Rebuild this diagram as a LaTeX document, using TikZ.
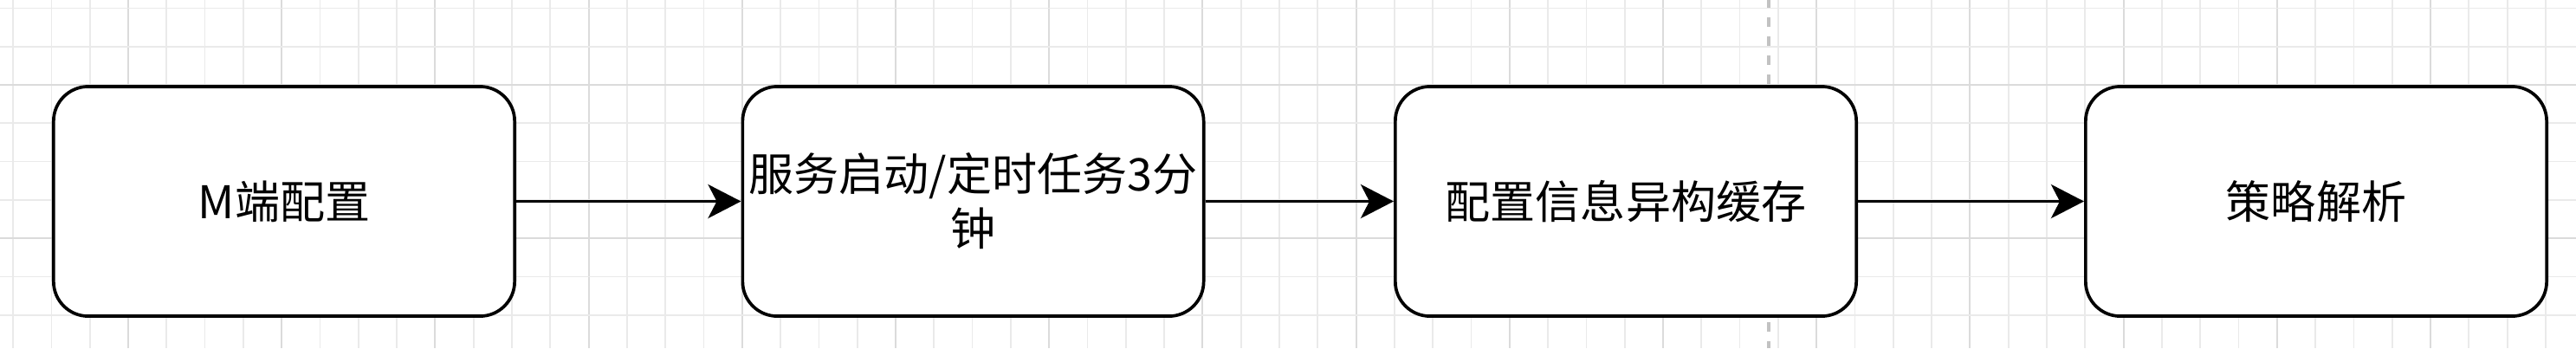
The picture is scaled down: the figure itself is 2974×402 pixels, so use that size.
\documentclass[tikz,border=0pt]{standalone}
\usepackage{fontspec}
\setmainfont{Noto Sans CJK SC}
\usetikzlibrary{arrows.meta}
\definecolor{gridminor}{HTML}{EAEAEA}
\definecolor{gridmajor}{HTML}{DBDBDB}
\definecolor{pageline}{HTML}{C2C2C2}
\begin{document}
\begin{tikzpicture}[x=0.01cm,y=-0.01cm,
  flowbox/.style={draw=black, line width=1.05pt, fill=white, rounded corners=0.4cm,
    minimum width=5.32cm, minimum height=2.65cm, inner sep=0pt, align=center,
    font=\fontsize{14.8pt}{17.9pt}\selectfont},
  flowarrow/.style={draw=black, line width=1.05pt, -{Stealth[length=0.38cm, width=0.39cm, inset=0.1cm]}},
  minorline/.style={draw=gridminor, line width=0.5pt},
  majorline/.style={draw=gridmajor, line width=0.6pt}]
\useasboundingbox (0,0) rectangle (2974,402);
\fill[white] (0,0) rectangle (2974,402);
% grid
\foreach \k in {-3,...,64} {
  \pgfmathsetmacro\xx{148+44.3*\k}
  \pgfmathtruncatemacro\mm{mod(\k+40,4)}
  \ifnum\mm=0
    \draw[majorline] (\xx,0) -- (\xx,402);
  \else
    \draw[minorline] (\xx,0) -- (\xx,402);
  \fi
}
\foreach \k in {-2,...,7} {
  \pgfmathsetmacro\yy{98+44.3*\k}
  \pgfmathtruncatemacro\mm{mod(\k+40,4)}
  \ifnum\mm=0
    \draw[majorline] (0,\yy) -- (2974,\yy);
  \else
    \draw[minorline] (0,\yy) -- (2974,\yy);
  \fi
}
% page break line
\coordinate (pt) at (2042,0);
\coordinate (pb) at (2042,402);
\draw[pageline, line width=0.9pt, dash pattern=on 0.11cm off 0.11cm, dash phase=0.02cm] (pt) -- (pb);
% boxes
\node[flowbox] (m) at (328,232.5) {M端配置};
\node[flowbox] (s) at (1123.5,232.5) {服务启动/定时任务3分\\钟};
\node[flowbox] (c) at (1877,232.5) {配置信息异构缓存};
\node[flowbox] (p) at (2674,232.5) {策略解析};
% arrows
\draw[flowarrow] (m) -- (s);
\draw[flowarrow] (s) -- (c);
\draw[flowarrow] (c) -- (p);
\end{tikzpicture}
\end{document}
